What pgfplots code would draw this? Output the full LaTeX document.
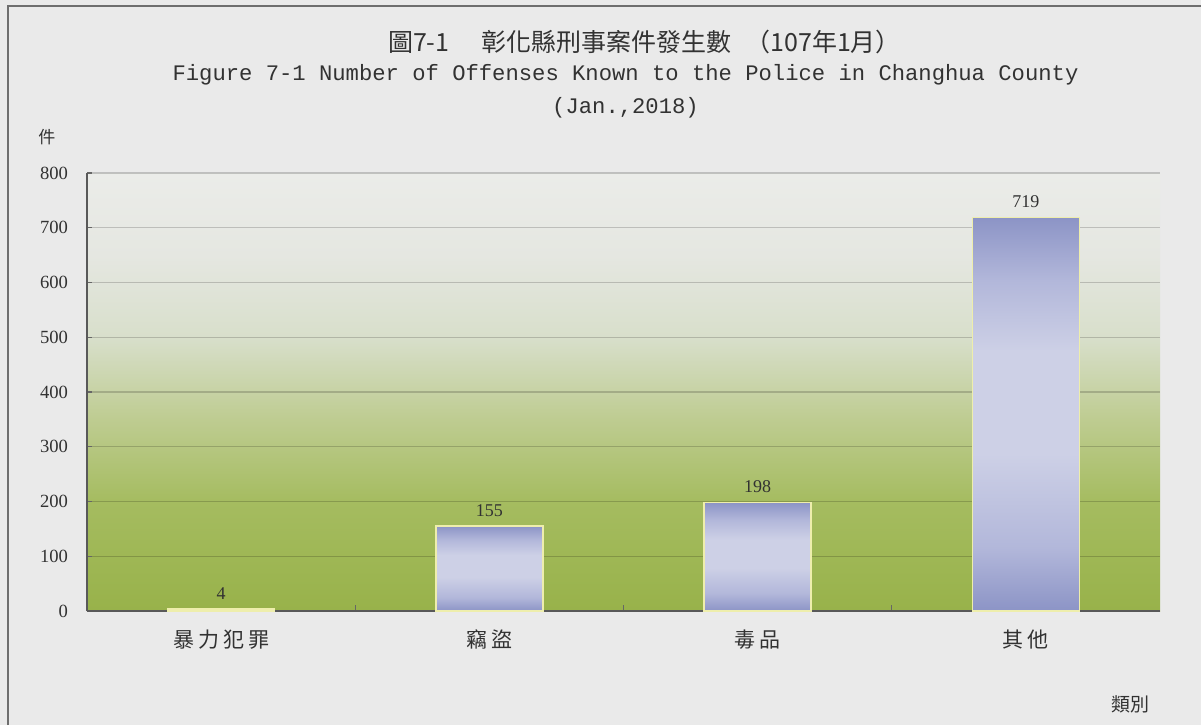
\documentclass[border=0pt]{standalone}
\usepackage{fontspec}
\setmainfont{Liberation Serif}
\newfontfamily\cjk{Noto Sans CJK TC}
\newfontfamily\mono{Liberation Mono}
\usepackage{pgfplots}
\pgfplotsset{compat=1.18}
\definecolor{pagebg}{RGB}{234,234,234}
\definecolor{framec}{RGB}{110,110,110}
\definecolor{barD}{RGB}{140,148,198}
\definecolor{barM}{RGB}{178,183,218}
\definecolor{barL}{RGB}{205,208,230}
\definecolor{barE}{RGB}{238,238,172}
\definecolor{txt}{RGB}{50,50,50}
\definecolor{g0}{RGB}{152,178,74}
\definecolor{g1}{RGB}{165,188,96}
\definecolor{g2}{RGB}{190,204,145}
\definecolor{g3}{RGB}{216,223,203}
\definecolor{g4}{RGB}{229,231,225}
\definecolor{g5}{RGB}{235,236,233}
\pgfdeclareverticalshading{bgshade}{100bp}{color(0bp)=(g0); color(25bp)=(g0); color(37.5bp)=(g1); color(46.9bp)=(g2); color(56.25bp)=(g3); color(65.6bp)=(g4); color(75bp)=(g5); color(100bp)=(g5)}
\pgfdeclareverticalshading{barshade}{100bp}{color(0bp)=(barD); color(25bp)=(barD); color(33bp)=(barM); color(45bp)=(barL); color(58bp)=(barL); color(67bp)=(barM); color(75bp)=(barD); color(100bp)=(barD)}
\pgfplotsset{barstyle/.style={ybar, bar width=53.5pt, bar shift=0pt, draw=barE, line width=0.8pt, shade, shading=barshade, nodes near coords}}
\begin{document}
\begin{tikzpicture}
\begin{scope}[x=0.5pt,y=-0.5pt,shift={(0pt,362.5pt)}]
\path[use as bounding box, fill=pagebg] (0,0) rectangle (1201,725);
\draw[framec, line width=1pt] (8,725) -- (8,6) -- (1201,6);
\node[text=txt, anchor=west] at (381,42) {\cjk\fontsize{12.5}{14}\selectfont 圖7-1};
\node[text=txt, anchor=west] at (474,42) {\cjk\fontsize{12.5}{14}\selectfont 彰化縣刑事案件發生數};
\node[text=txt, anchor=east] at (908,42) {\cjk\fontsize{12.5}{14}\selectfont （107年1月）};
\node[text=txt] at (625.5,75) {\mono\fontsize{11.1}{13}\selectfont Figure 7-1 Number of Offenses Known to the Police in Changhua County};
\node[text=txt] at (625.5,108) {\mono\fontsize{11.1}{13}\selectfont (Jan.,2018)};
\node[text=txt] at (47,137) {\cjk\fontsize{8.5}{10}\selectfont 件};
\node[text=txt] at (1130,704) {\cjk\fontsize{9.5}{11}\selectfont 類別};
\end{scope}
\begin{axis}[
  at={(43.5pt,57pt)}, anchor=south west,
  scale only axis, width=536.5pt, height=219pt,
  xmin=-0.5, xmax=3.5, ymin=0, ymax=800,
  axis x line*=bottom, axis y line*=left,
  axis line style={draw=black!65, line width=0.7pt},
  axis background/.style={shade, shading=bgshade},
  ytick={0,100,...,800},
  ymajorgrids,
  major grid style={draw=black, opacity=0.18, line width=0.6pt},
  tick align=inside,
  major tick length=2.5pt,
  tick style={draw=black!60, line width=0.6pt},
  xtick={0,1,2,3},
  xticklabels={暴\hspace{2pt}力\hspace{2pt}犯\hspace{2pt}罪, 竊\hspace{2pt}盜, 毒\hspace{2pt}品, 其\hspace{2pt}他},
  x tick style={draw=none},
  minor xtick={0.5,1.5,2.5},
  minor x tick style={draw=black!60},
  minor tick length=3pt,
  /pgf/number format/assume math mode=true,
  yticklabel style={font=\fontsize{9.3}{11}\selectfont, text=txt, xshift=-6pt},
  xticklabel style={font=\cjk\fontsize{10.5}{12}\selectfont, text=txt, yshift=-6pt},
  every node near coord/.append style={font=\fontsize{9}{11}\selectfont, text=txt, yshift=1pt},
]
\addplot[barstyle] coordinates {(0,4)};
\addplot[barstyle] coordinates {(1,155)};
\addplot[barstyle] coordinates {(2,198)};
\addplot[barstyle] coordinates {(3,719)};
\end{axis}
\end{tikzpicture}
\end{document}
